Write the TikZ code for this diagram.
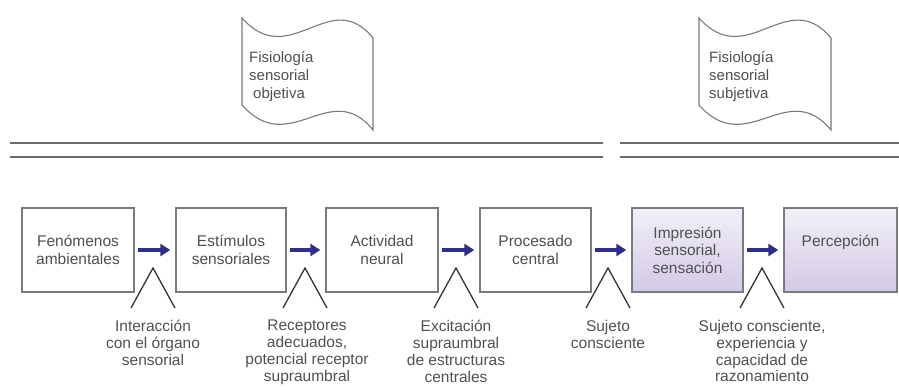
\documentclass[tikz,border=0pt]{standalone}
\usepackage{fontspec}
\setmainfont{Liberation Sans}
\usetikzlibrary{arrows.meta}
\definecolor{txt}{HTML}{505050}
\definecolor{boxline}{HTML}{7A7A7A}
\definecolor{navy}{HTML}{2E2F8C}
\definecolor{lavtop}{HTML}{F2EFF8}
\definecolor{lavbot}{HTML}{D3CAE6}
\definecolor{rule}{HTML}{6A6A6A}
\tikzset{
  stagebox/.style={draw=boxline, line width=1.3pt, fill=white, minimum height=84pt,
    inner sep=0pt, align=center, text=txt, font=\fontsize{15.5}{17.5}\selectfont},
  shadedbox/.style={stagebox, top color=lavtop, bottom color=lavbot},
  flow/.style={draw=navy, line width=3.8pt, -{Triangle[length=10pt,width=12pt]},
    shorten <=3pt, shorten >=5pt},
  caret/.style={draw=black!80, line width=1.3pt, line join=miter},
  lab/.style={anchor=north, align=center, inner sep=0pt, text=txt,
    font=\fontsize{15.5}{16.8}\selectfont},
  flagline/.style={draw=boxline, line width=1.1pt, fill=white},
  flagtext/.style={anchor=north west, align=left, inner sep=0pt, text=txt,
    font=\fontsize{15}{18}\selectfont},
  rulestyle/.style={draw=rule, line width=2.2pt}
}
\begin{document}
\begin{tikzpicture}[x=1pt, y=-1pt]
\useasboundingbox (0,0) rectangle (899,389);
% flags
\draw[flagline] (242,18) .. controls (290,72) and (330,-15) .. (373,38) -- (373,130)
   .. controls (330,77) and (290,159) .. (242,105) -- cycle;
\node[flagtext] (f1) at (249,51) {Fisiología\\sensorial\\\hspace{4pt}objetiva};
\draw[flagline] (699,18) .. controls (747,72) and (787,-15) .. (831,38) -- (831,130)
   .. controls (787,77) and (747,159) .. (699,105) -- cycle;
\node[flagtext] (f2) at (709,51) {Fisiología\\sensorial\\subjetiva};
% double rules
\coordinate (r1a) at (10,143); \coordinate (r1b) at (603,143);
\coordinate (r2a) at (10,157); \coordinate (r2b) at (603,157);
\coordinate (r3a) at (620,143); \coordinate (r3b) at (899,143);
\coordinate (r4a) at (620,157); \coordinate (r4b) at (899,157);
\draw[rulestyle] (r1a) -- (r1b);
\draw[rulestyle] (r2a) -- (r2b);
\draw[rulestyle] (r3a) -- (r3b);
\draw[rulestyle] (r4a) -- (r4b);
% boxes
\node[stagebox, minimum width=112pt] (b1) at (78,250) {Fenómenos\\ambientales};
\node[stagebox, minimum width=110pt] (b2) at (231,250) {Estímulos\\sensoriales};
\node[stagebox, minimum width=112pt] (b3) at (382,250) {Actividad\\neural};
\node[stagebox, minimum width=111pt] (b4) at (535.5,250) {Procesado\\central};
\node[shadedbox, minimum width=111pt] (b5) at (687.5,250) {Impresión\\sensorial,\\sensación};
\node[shadedbox, minimum width=113pt] (b6) at (840.5,250) {Percepción\\\phantom{x}};
% arrows
\draw[flow] (b1) -- (b2);
\draw[flow] (b2) -- (b3);
\draw[flow] (b3) -- (b4);
\draw[flow] (b4) -- (b5);
\draw[flow] (b5) -- (b6);
% carets
\foreach \cx in {153,305,456,608,762}{
  \draw[caret] (\cx-22,308) -- (\cx,268) -- (\cx+22,308);
}
% labels
\node[lab] (l1) at (153,320) {Interacción\\con el órgano\\sensorial};
\node[lab] (l2) at (307,320) {Receptores\\adecuados,\\potencial receptor\\supraumbral};
\node[lab] (l3) at (456,320) {Excitación\\supraumbral\\de estructuras\\centrales};
\node[lab] (l4) at (608,320) {Sujeto\\consciente};
\node[lab] (l5) at (762,320) {Sujeto consciente,\\experiencia y\\capacidad de\\razonamiento};
\end{tikzpicture}
\end{document}
